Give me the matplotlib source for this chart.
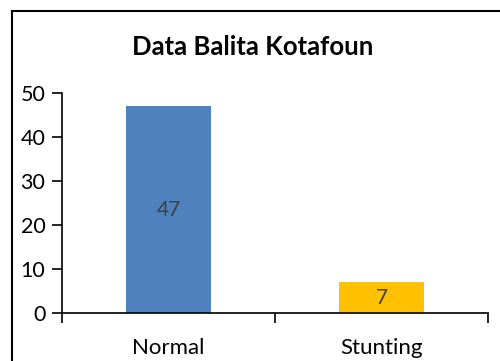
import matplotlib.pyplot as plt
from matplotlib.lines import Line2D

categories = ['Normal', 'Stunting']
values = [47, 7]
colors = ['#4F81BD', '#FFC000']

plt.rcParams['font.family'] = ['Lato', 'DejaVu Sans']

fig = plt.figure(figsize=(5, 3.61), dpi=100)
ax = fig.add_axes([0.124, 0.133, 0.852, 0.609])

x = range(len(categories))
bars = ax.bar(x, values, width=0.4, color=colors)
for b, v in zip(bars, values):
    ax.text(b.get_x() + b.get_width() / 2, v / 2, str(v),
            ha='center', va='center', fontsize=15, color='#404040')

ax.set_xlim(-0.5, len(categories) - 0.5)
ax.set_ylim(0, 50)
ax.set_yticks(range(0, 51, 10))
ax.set_xticks([-0.5, 0.5, 1.5])
ax.set_xticklabels([])
ax.set_xticks(list(x), minor=True)
ax.set_xticklabels(categories, minor=True)
ax.tick_params(axis='x', which='minor', length=0, labelsize=16, pad=18)
ax.tick_params(axis='x', which='major', length=7, width=1.2, direction='out')
ax.tick_params(axis='y', length=7, width=1.2, labelsize=15.5, pad=5)

for s in ['top', 'right']:
    ax.spines[s].set_visible(False)
ax.spines['left'].set_linewidth(1.2)
ax.spines['bottom'].set_linewidth(1.2)

fig.text(0.506, 0.87, 'Data Balita Kotafoun', ha='center', va='center',
         fontsize=18.5, fontweight='bold')

# chart frame (only top and left edges visible in the crop)
fig.add_artist(Line2D([0.024, 1.0], [0.97, 0.97], color='black', lw=1.5))
fig.add_artist(Line2D([0.024, 0.024], [0.0, 0.97], color='black', lw=1.5))

fig.savefig('out.png')
